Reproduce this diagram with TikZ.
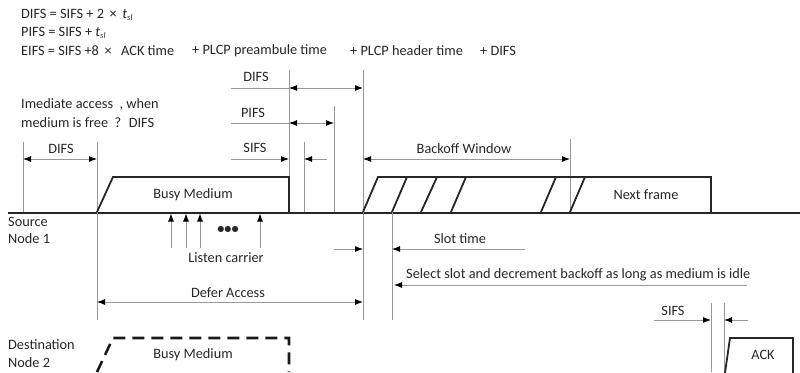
\documentclass[tikz,border=0pt]{standalone}
\usepackage{fontspec}
\setmainfont{Carlito}
\usetikzlibrary{arrows.meta}

\begin{document}
\begin{tikzpicture}[x=1pt,y=-1pt,
  tip/.tip={Latex[color=black,length=8pt,width=6pt]},
  axis/.style={draw=black!85,line width=2pt},
  frame/.style={draw=black!85,line width=1.8pt,line join=miter},
  dashframe/.style={draw=black!90,line width=2.6pt,dash pattern=on 12pt off 7pt},
  guide/.style={draw=black!40,line width=0.9pt},
  dim/.style={guide,tip-tip},
  toarrow/.style={guide,-tip},
  lbl/.style={font=\fontsize{14.3}{16}\selectfont,text=black!85,inner sep=0pt},
  lbll/.style={lbl,anchor=west}]
\useasboundingbox (0,0) rectangle (800,372);

% formulas
\newcommand{\tsl}{\textit{t}\raisebox{-0.35ex}{\fontsize{8.5}{8.5}\selectfont\textit{sl}}}
\node[lbll] (f1) at (21,15) {DIFS = SIFS + 2 \,× \,\tsl};
\node[lbll] (f2) at (21,33) {PIFS = SIFS + \tsl};
\node[lbll] (f3a) at (21,51) {EIFS = SIFS +8 \,×};
\node[lbll] (f3e) at (121,51) {ACK time};
\node[lbll] (f3b) at (192,51) {+ PLCP preambule time};
\node[lbll] (f3c) at (350,51) {+ PLCP header time};
\node[lbll] (f3d) at (480,51) {+ DIFS};

\node[lbll] (imm1) at (21,104) {Imediate access \ , when};
\node[lbll] (imm2) at (21,123) {medium is free \ ? \ DIFS};

% time axis of the source
\coordinate (s0) at (8,212.5);
\coordinate (s1) at (800,212.5);
\draw[axis] (s0) -- (s1);
\node[lbll] (src1) at (8,222) {Source};
\node[lbll] (src2) at (8,239) {Node 1};

% vertical guides
\draw[guide] (23,142) -- (23,212);
\draw[guide] (97,142) -- (97,320);
\draw[guide] (289,70) -- (289,212);
\draw[guide] (304,142) -- (304,212);
\draw[guide] (334,106) -- (334,212);
\draw[guide] (363,70) -- (363,320);
\draw[guide] (392,212) -- (392,320);
\draw[guide] (570,139) -- (570,212);
\draw[guide] (711,303) -- (711,372);
\draw[guide] (724,303) -- (724,372);

% busy medium of the source
\draw[frame] (97,212) -- (113,177) -- (289,177) -- (289,212);
\node[lbl] (busy1) at (193,195) {Busy Medium};

% backoff slots and next frame
\draw[frame] (363,212) -- (378,177) -- (711,177) -- (711,212);
\foreach \b/\t in {392/407,421/437,451/466,541/556,570/585}
  \draw[frame] (\b,212) -- (\t,177);
\node[lbl] (next) at (646,195) {Next frame};

% interframe spaces
\draw[dim] (23,159) -- (97,159);
\node[lbl] (difsL) at (61,149) {DIFS};

\draw[guide] (231,88) -- (289,88);
\draw[dim] (289,88) -- (363,88);
\node[lbl] (difs) at (256,77) {DIFS};

\draw[guide] (231,123) -- (289,123);
\draw[dim] (289,123) -- (334,123);
\node[lbl] (pifs) at (253,113) {PIFS};

\draw[toarrow] (231,159) -- (289,159);
\draw[toarrow] (327,159) -- (304,159);
\node[lbl] (sifs) at (255,148) {SIFS};

\draw[dim] (363,159) -- (570,159);
\node[lbl] (bw) at (464,149) {Backoff Window};

% listen carrier
\foreach \x in {171,186,200,260}
  \draw[toarrow] (\x,248) -- (\x,213.5);
\node[lbl] (dots) at (228,230) {\textbf{•••}};
\node[lbl] (listen) at (226,258) {Listen carrier};

% slot time
\draw[toarrow] (334,249) -- (363,249);
\draw[toarrow] (525,249) -- (392,249);
\node[lbl] (slot) at (460,239) {Slot time};

\draw[toarrow] (747,285) -- (394,285);
\node[lbll] (sel) at (406,275) {Select slot and decrement backoff as long as medium is idle};

% defer access
\draw[dim] (97,302) -- (363,302);
\node[lbl] (defer) at (228,293) {Defer Access};

% destination
\node[lbll] (dst1) at (8,345) {Destination};
\node[lbll] (dst2) at (8,363) {Node 2};
\draw[dashframe] (97,372) -- (113,338) -- (289,338) -- (289,372);
\node[lbl] (busy2) at (193,355) {Busy Medium};

\draw[toarrow] (654,320) -- (711,320);
\draw[toarrow] (748,320) -- (724,320);
\node[lbl] (sifs2) at (673,311) {SIFS};

\draw[frame] (725,373) -- (730,338) -- (793,338) -- (793,373);
\node[lbl] (ack) at (763,355) {ACK};
\end{tikzpicture}
\end{document}
